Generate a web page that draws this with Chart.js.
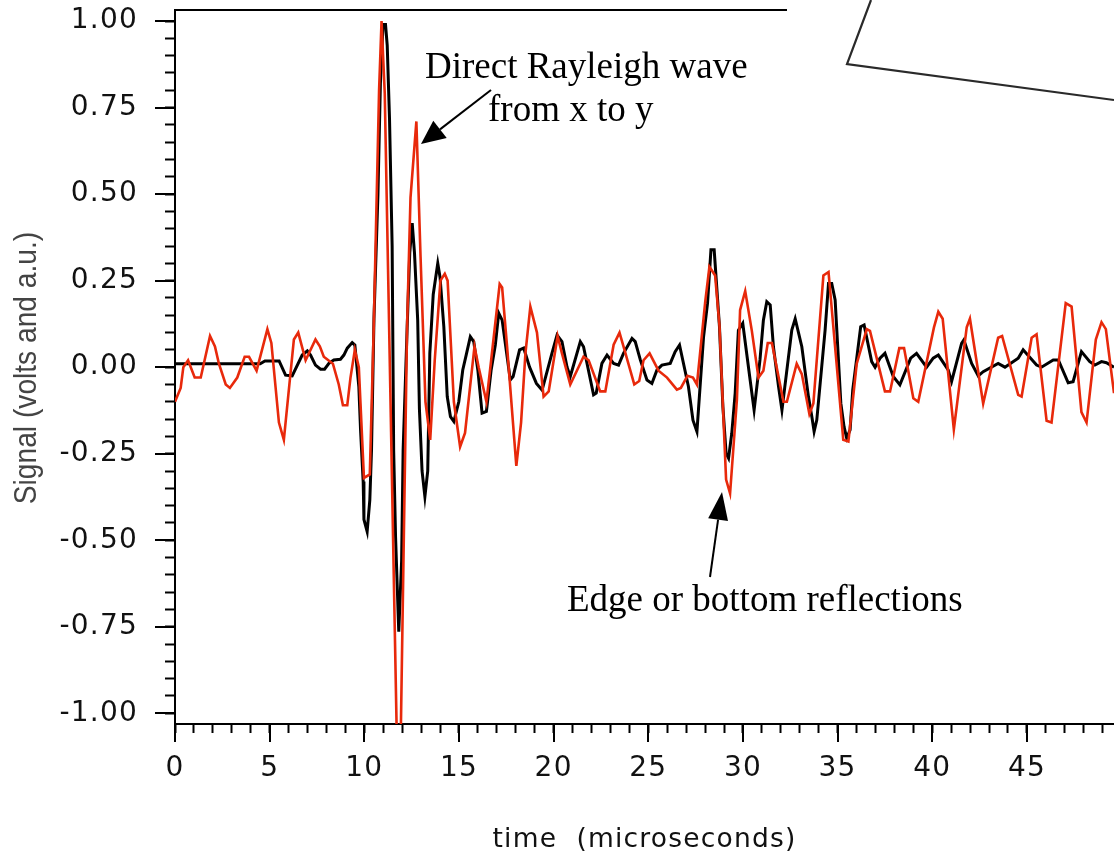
<!DOCTYPE html>
<html><head><meta charset="utf-8">
<script src="https://cdn.jsdelivr.net/npm/chart.js@4.4.1/dist/chart.umd.min.js"></script>
<style>html,body{margin:0;padding:0;background:#fff;}canvas{display:block}</style>
</head><body>
<canvas id="c" width="1114" height="856" style="width:1114px;height:856px"></canvas>
<script>
// ---- data (time in microseconds, signal in volts / a.u.) ----
const redTimes = [0.00,0.30,0.44,0.69,1.04,1.36,1.85,2.11,2.32,2.68,2.90,3.29,3.68,3.91,4.31,4.88,5.09,5.49,5.75,6.28,6.51,6.90,7.42,7.65,7.86,8.34,8.65,8.87,9.10,9.27,9.50,9.71,9.98,10.29,10.50,10.78,10.91,11.08,11.83,12.26,12.44,12.75,12.97,13.23,13.48,13.72,14.02,14.25,14.40,14.73,15.06,15.32,15.82,16.04,16.45,16.70,17.15,17.28,17.54,18.03,18.28,18.51,18.77,19.12,19.47,19.74,20.21,20.44,20.88,21.58,21.85,22.46,22.73,23.17,23.48,23.69,24.26,24.52,24.75,25.07,25.54,25.99,26.51,26.72,27.07,27.36,27.57,28.01,28.23,28.53,28.76,29.11,29.32,29.68,29.85,30.12,30.47,30.82,31.08,31.31,31.53,32.14,32.32,32.84,33.11,33.51,33.72,34.25,34.52,35.30,35.57,36.01,36.54,36.71,37.50,37.77,38.26,38.51,39.00,39.26,40.09,40.32,40.55,41.14,41.82,41.99,42.69,43.48,43.69,44.54,44.72,45.25,45.51,46.04,46.30,47.05,47.36,47.88,48.15,48.64,48.94,49.17,49.60];
const redValues = [-0.10,-0.06,0.00,0.02,-0.03,-0.03,0.09,0.06,0.01,-0.05,-0.06,-0.03,0.03,0.03,-0.01,0.11,0.07,-0.16,-0.21,0.08,0.10,0.02,0.08,0.06,0.03,0.01,-0.05,-0.11,-0.11,-0.03,0.05,0.00,-0.32,-0.31,0.12,0.80,1.00,0.79,-1.40,0.12,0.49,0.71,0.32,-0.10,-0.21,0.02,0.25,0.27,0.25,-0.10,-0.23,-0.19,0.06,0.00,-0.10,0.02,0.24,0.23,0.06,-0.285,-0.16,0.04,0.175,0.10,-0.085,-0.07,0.09,0.04,-0.05,0.03,0.02,-0.07,-0.07,0.065,0.10,0.06,-0.05,-0.04,0.02,0.04,-0.01,-0.03,-0.065,-0.06,-0.025,-0.03,-0.05,0.19,0.29,0.265,0.12,-0.325,-0.365,-0.095,0.165,0.22,0.105,-0.03,-0.01,0.07,0.07,-0.10,-0.10,0.01,-0.02,-0.135,-0.105,0.265,0.275,-0.21,-0.215,0.01,0.11,0.105,-0.07,-0.07,0.055,0.055,-0.09,-0.10,0.115,0.16,0.14,-0.18,0.115,0.14,-0.105,0.085,0.09,-0.08,-0.085,0.085,0.095,-0.155,-0.16,0.185,0.175,-0.13,-0.16,0.08,0.13,0.11,-0.075];

const blackTimes = [0.00,4.50,4.75,5.50,5.84,6.19,6.72,6.99,7.16,7.42,7.69,7.90,8.13,8.39,8.74,8.92,9.10,9.36,9.50,9.71,9.80,9.94,9.98,10.15,10.29,10.38,10.51,10.72,10.85,10.99,11.12,11.21,11.33,11.47,11.55,11.65,11.82,11.97,12.05,12.26,12.40,12.53,12.65,12.82,12.91,13.05,13.20,13.35,13.46,13.64,13.88,14.00,14.20,14.38,14.55,14.73,14.99,15.20,15.38,15.60,15.78,16.00,16.22,16.45,16.70,16.92,17.10,17.28,17.71,17.86,18.20,18.42,18.73,19.09,19.39,19.91,20.18,20.44,20.71,20.88,21.41,21.58,22.11,22.25,22.55,22.82,23.17,23.43,23.69,24.14,24.31,24.58,24.93,25.19,25.46,25.72,26.16,26.42,26.65,27.12,27.36,27.57,27.92,28.13,28.31,28.48,28.76,28.94,29.11,29.24,29.41,29.59,29.76,29.99,30.38,30.59,30.90,31.08,31.26,31.44,31.61,31.88,32.06,32.58,32.76,33.11,33.46,33.64,33.76,33.90,34.34,34.52,34.69,34.87,35.17,35.34,35.48,35.66,35.80,36.22,36.40,36.80,36.98,37.24,37.50,37.94,38.29,38.86,39.17,39.70,40.05,40.32,40.84,41.02,41.55,41.67,42.08,42.43,42.69,43.48,43.84,44.54,44.80,45.51,45.77,46.39,46.66,47.18,47.44,47.88,48.32,48.59,48.94,49.20,49.60];
const blackValues = [0.01,0.01,0.018,0.018,-0.023,-0.025,0.035,0.047,0.035,0.006,-0.006,-0.006,0.011,0.021,0.023,0.035,0.055,0.071,0.064,-0.056,-0.18,-0.33,-0.44,-0.475,-0.384,-0.24,0.14,0.50,0.82,0.99,0.99,0.93,0.72,0.35,-0.24,-0.49,-0.764,-0.56,-0.24,0.11,0.33,0.416,0.33,0.136,-0.12,-0.30,-0.374,-0.30,0.04,0.21,0.30,0.26,0.117,-0.085,-0.143,-0.157,-0.10,-0.008,0.035,0.088,0.074,-0.01,-0.133,-0.128,-0.008,0.064,0.156,0.136,-0.037,-0.027,0.05,0.055,0.0,-0.047,-0.066,0.04,0.093,0.074,0.0,-0.027,0.074,0.059,-0.08,-0.075,0.011,0.035,0.011,0.006,0.04,0.083,0.074,0.021,-0.037,-0.047,-0.008,0.006,0.011,0.045,0.064,-0.056,-0.153,-0.186,0.088,0.185,0.339,0.339,0.117,-0.114,-0.249,-0.263,-0.191,-0.075,0.107,0.127,-0.037,-0.124,0.021,0.136,0.189,0.18,0.059,-0.056,-0.124,0.107,0.14,0.059,-0.085,-0.143,-0.186,-0.153,0.107,0.242,0.242,0.194,-0.104,-0.172,-0.205,-0.181,-0.066,0.117,0.122,0.016,0.0,0.026,0.04,-0.027,-0.051,0.026,0.04,0.0,0.026,0.035,-0.008,-0.042,0.069,0.079,0.011,-0.025,-0.013,0.011,0.0,0.026,0.05,0.006,0.0,0.021,0.021,-0.045,-0.042,0.045,0.016,0.006,0.016,0.013,0.0];

// ---- ticks ----
const xTickValues = [0,1,2,3,4,5,6,7,8,9,10,11,12,13,14,15,16,17,18,19,20,21,22,23,24,25,26,27,28,29,30,31,32,33,34,35,36,37,38,39,40,41,42,43,44,45,46,47,48,49];
const xMajorValues = [0,5,10,15,20,25,30,35,40,45];
const xMajorLabels = ["0","5","10","15","20","25","30","35","40","45"];
const yTickValues = [-1.00,-0.95,-0.90,-0.85,-0.80,-0.75,-0.70,-0.65,-0.60,-0.55,-0.50,-0.45,-0.40,-0.35,-0.30,-0.25,-0.20,-0.15,-0.10,-0.05,0.00,0.05,0.10,0.15,0.20,0.25,0.30,0.35,0.40,0.45,0.50,0.55,0.60,0.65,0.70,0.75,0.80,0.85,0.90,0.95,1.00];
const yMajorValues = [-1.00,-0.75,-0.50,-0.25,0.00,0.25,0.50,0.75,1.00];
const yMajorLabels = ["-1.00","-0.75","-0.50","-0.25","0.00","0.25","0.50","0.75","1.00"];

const xTitle = "time  (microseconds)";
const yTitle = "Signal (volts and a.u.)";
const note1 = ["Direct Rayleigh wave", "from x to y"];
const note2 = "Edge or bottom reflections";

const toPts = (ts, vs) => ts.map((t, i) => ({x: t, y: vs[i]}));
const findLabel = (vals, labels, v) => { const i = vals.findIndex(m => Math.abs(m - v) < 1e-6); return i >= 0 ? labels[i] : ''; };
const noPad = s => { s.paddingLeft = 0; s.paddingRight = 0; s.paddingTop = 0; s.paddingBottom = 0; };

const TICK_FONT = '"DejaVu Sans", Verdana, sans-serif';
const SPACING = '1.2px';

function arrow(ctx, x0, y0, x1, y1, len, half) {
  const dx = x1 - x0, dy = y1 - y0, d = Math.hypot(dx, dy), ux = dx / d, uy = dy / d;
  const bx = x1 - ux * len, by = y1 - uy * len;
  ctx.beginPath(); ctx.moveTo(x0, y0); ctx.lineTo(bx, by); ctx.stroke();
  ctx.beginPath(); ctx.moveTo(x1, y1);
  ctx.lineTo(bx - uy * half, by + ux * half);
  ctx.lineTo(bx + uy * half, by - ux * half);
  ctx.closePath(); ctx.fill();
}

const decor = {
  id: 'decor',
  beforeUpdate(chart) { chart.ctx.letterSpacing = SPACING; },
  beforeDraw(chart) { chart.ctx.letterSpacing = SPACING; },
  afterDraw(chart) {
    const ctx = chart.ctx, xs = chart.scales.x, ys = chart.scales.y, ca = chart.chartArea;
    ctx.save();
    ctx.letterSpacing = '0px';
    ctx.strokeStyle = '#000'; ctx.fillStyle = '#000'; ctx.lineWidth = 2;
    // major tick marks (longer than the minor ones drawn by the library)
    yMajorValues.forEach(v => {
      const py = Math.round(ys.getPixelForValue(v));
      ctx.beginPath(); ctx.moveTo(ca.left - 20, py); ctx.lineTo(ca.left, py); ctx.stroke();
    });
    xMajorValues.forEach(v => {
      const px = Math.round(xs.getPixelForValue(v));
      ctx.beginPath(); ctx.moveTo(px, ca.bottom); ctx.lineTo(px, ca.bottom + 18); ctx.stroke();
    });
    // top frame line
    ctx.beginPath(); ctx.moveTo(ca.left - 1, ca.top); ctx.lineTo(787, ca.top); ctx.stroke();
    // partially hidden inset sketch (top right)
    ctx.strokeStyle = '#2a2a2a'; ctx.lineWidth = 2.2;
    ctx.beginPath(); ctx.moveTo(871, 0); ctx.lineTo(847, 64); ctx.lineTo(1114, 100); ctx.stroke();
    // y title
    ctx.save();
    ctx.fillStyle = '#444';
    ctx.font = '32px "Liberation Sans", Arial, sans-serif';
    ctx.translate(36, 368); ctx.rotate(-Math.PI / 2); ctx.scale(0.88, 1);
    ctx.textAlign = 'center'; ctx.textBaseline = 'alphabetic';
    ctx.fillText(yTitle, 0, 0);
    ctx.restore();
    // annotations
    ctx.fillStyle = '#000'; ctx.strokeStyle = '#000';
    ctx.font = '37px "Liberation Serif", "Times New Roman", serif';
    ctx.textAlign = 'left'; ctx.textBaseline = 'alphabetic';
    ctx.fillText(note1[0], 425, 78);
    ctx.fillText(note1[1], 488, 121);
    ctx.fillText(note2, 567, 611);
    ctx.lineWidth = 2;
    arrow(ctx, 491, 90, 421, 144, 24, 11);
    arrow(ctx, 710, 577, 722, 492, 28, 10);
    ctx.restore();
  }
};

new Chart(document.getElementById('c'), {
  type: 'line',
  data: {
    datasets: [
      { label: 'model', data: toPts(redTimes, redValues), borderColor: '#e8290b', borderWidth: 2.6,
        pointRadius: 0, tension: 0, fill: false, order: 0, clip: 0 },
      { label: 'measured', data: toPts(blackTimes, blackValues), borderColor: '#000', borderWidth: 3,
        pointRadius: 0, tension: 0, fill: false, order: 1, clip: 0 }
    ]
  },
  options: {
    responsive: false, animation: false, devicePixelRatio: 1,
    layout: { padding: { top: 10, left: 0, right: 0, bottom: 0 } },
    plugins: { legend: { display: false }, tooltip: { enabled: false } },
    scales: {
      x: {
        type: 'linear', min: 0, max: 49.6,
        afterBuildTicks: s => { s.ticks = xTickValues.map(v => ({value: v})); },
        afterFit: s => { s.height = 132; noPad(s); },
        ticks: { autoSkip: false, maxRotation: 0, minRotation: 0, padding: 19, color: '#111',
                 font: { family: TICK_FONT, size: 28 },
                 callback: v => findLabel(xMajorValues, xMajorLabels, v) },
        grid: { display: true, drawOnChartArea: false, drawTicks: true, tickLength: 9, tickWidth: 2, tickColor: '#000' },
        border: { display: true, color: '#000', width: 2 },
        title: { display: true, text: xTitle, color: '#111', font: { family: TICK_FONT, size: 26.5 }, padding: { top: 0, bottom: 0 } }
      },
      y: {
        type: 'linear', min: -1.031, max: 1.032,
        afterBuildTicks: s => { s.ticks = yTickValues.map(v => ({value: v})); },
        afterFit: s => { s.width = 175; noPad(s); },
        ticks: { autoSkip: false, padding: 27, color: '#111',
                 font: { family: TICK_FONT, size: 28 },
                 callback: v => findLabel(yMajorValues, yMajorLabels, v) },
        grid: { display: true, drawOnChartArea: false, drawTicks: true, tickLength: 10, tickWidth: 2, tickColor: '#000' },
        border: { display: true, color: '#000', width: 2 },
        title: { display: false }
      }
    }
  },
  plugins: [decor]
});
</script>
</body></html>
